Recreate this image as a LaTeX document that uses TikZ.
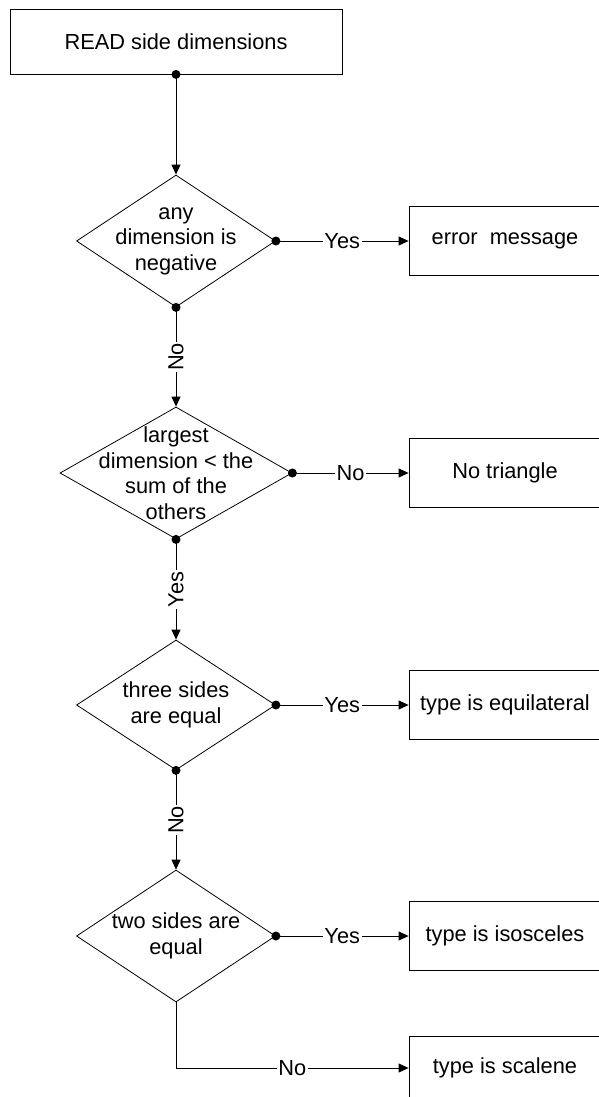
\documentclass[tikz,border=0pt]{standalone}
\usepackage{fontspec}
\setmainfont{Liberation Sans}
\usetikzlibrary{shapes.geometric,arrows.meta}
\begin{document}
\begin{tikzpicture}[x=1pt,y=-1pt,
  every node/.style={font=\fontsize{21.8}{25.5}\selectfont},
  procbox/.style={draw, line width=0.8pt, inner sep=0pt, minimum width=192pt, minimum height=69pt},
  decision/.style={draw, diamond, line width=0.8pt, inner sep=0pt, minimum width=199pt, minimum height=132pt},
  dtext/.style={align=center, inner sep=0pt},
  flow/.style={line width=0.8pt, -{Triangle[length=10pt,width=9pt]}},
  lbl/.style={fill=white, inner sep=1.5pt},
  dot/.style={fill=black}
]
\useasboundingbox (0,0) rectangle (598,1097);

% top box
\node[draw, line width=0.8pt, inner sep=0pt, minimum width=332pt, minimum height=65pt] (read) at (176,41.5) {READ side dimensions};

% decisions
\node[decision] (d1) at (176,241) {};
\node[dtext] (d1t) at (d1.center) {any\\dimension is\\negative};
\node[decision, minimum width=232pt] (d2) at (176,473) {};
\node[dtext] (d2t) at (d2.center) {largest\\dimension < the\\sum of the\\others};
\node[decision, minimum height=130pt] (d3) at (176,705) {};
\node[dtext] (d3t) at (d3.center) {three sides\\are equal};
\node[decision] (d4) at (176,936) {};
\node[dtext] (d4t) at (d4.center) {two sides are\\equal};

% outcome boxes
\node[procbox] (err) at (505,241) {error\ \ message};
\node[procbox] (notri) at (505,473) {No triangle};
\node[procbox] (equi) at (505,705) {type is equilateral};
\node[procbox] (iso) at (505,936) {type is isosceles};
\node[procbox, minimum height=64pt] (scal) at (505,1068) {type is scalene};

% connectors
\draw[flow] (read.south) -- (d1.north);
\draw[flow] (d1.east) -- node[lbl]{Yes} (err.west);
\draw[flow] (d1.south) -- node[lbl, rotate=90]{No} (d2.north);
\draw[flow] (d2.east) -- node[lbl]{No} (notri.west);
\draw[flow] (d2.south) -- node[lbl, rotate=90]{Yes} (d3.north);
\draw[flow] (d3.east) -- node[lbl]{Yes} (equi.west);
\draw[flow] (d3.south) -- node[lbl, rotate=90]{No} (d4.north);
\draw[flow] (d4.east) -- node[lbl]{Yes} (iso.west);
\draw[flow] (d4.south) |- node[lbl, pos=0.75]{No} (scal.west);

% start dots
\foreach \p in {read.south, d1.east, d1.south, d2.east, d2.south, d3.east, d3.south, d4.east}
  \fill[dot] (\p) circle[radius=4.5pt];
\end{tikzpicture}
\end{document}
